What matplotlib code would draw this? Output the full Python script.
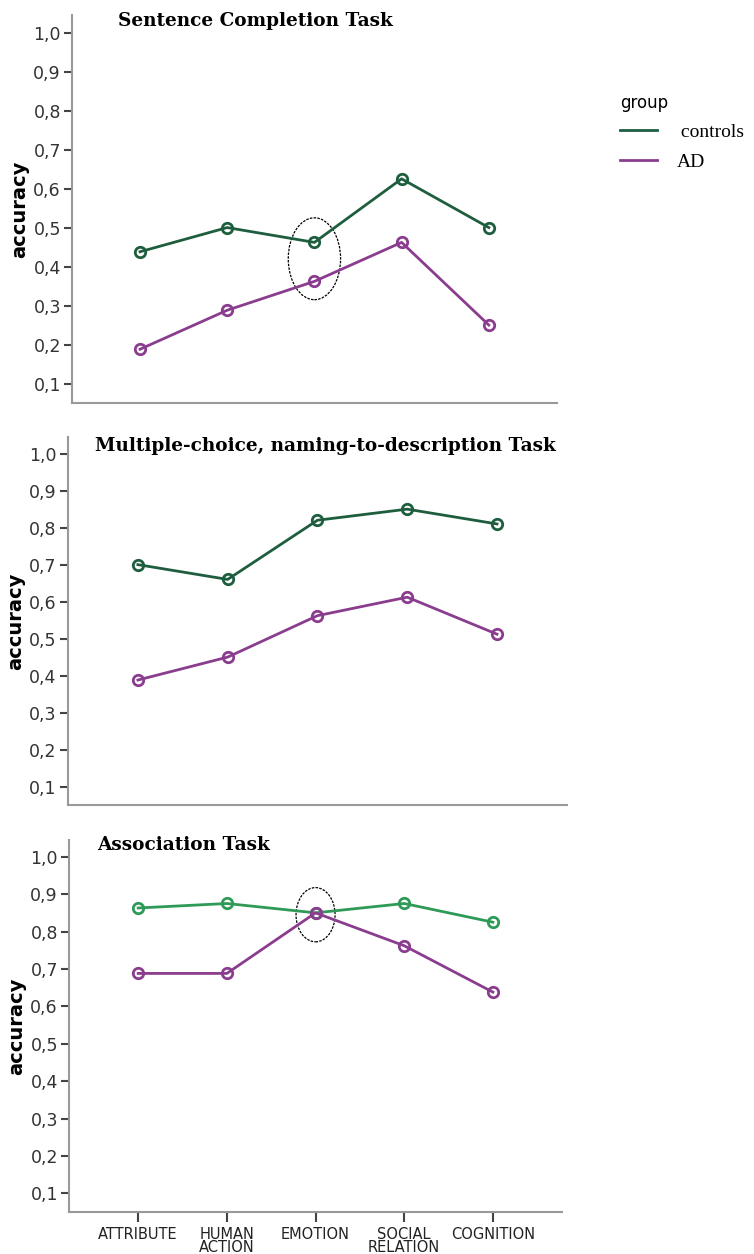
import matplotlib.pyplot as plt
from matplotlib.patches import Ellipse
from matplotlib.lines import Line2D
import numpy as np

categories = ['ATTRIBUTE', 'HUMAN\nACTION', 'EMOTION', 'SOCIAL\nRELATION', 'COGNITION']
titles = ['Sentence Completion Task',
          'Multiple-choice, naming-to-description Task',
          'Association Task']

controls = [
    [0.438, 0.500, 0.462, 0.625, 0.500],
    [0.700, 0.660, 0.820, 0.850, 0.810],
    [0.863, 0.875, 0.850, 0.875, 0.825],
]
ad = [
    [0.188, 0.288, 0.362, 0.462, 0.250],
    [0.388, 0.450, 0.562, 0.612, 0.512],
    [0.688, 0.688, 0.850, 0.762, 0.638],
]
yticks = [0.1, 0.2, 0.3, 0.4, 0.5, 0.6, 0.7, 0.8, 0.9, 1.0]
ytick_labels = ['0,1', '0,2', '0,3', '0,4', '0,5', '0,6', '0,7', '0,8', '0,9', '1,0']

control_colors = ['#1e5e3e', '#1e5e3e', '#2f9a58']
ad_color = '#8a3d8e'

# axes boxes in figure fraction (left, bottom, width, height)
boxes = [(0.0955, 0.6786, 0.643, 0.3094),
         (0.090, 0.358, 0.662, 0.2935),
         (0.0915, 0.0335, 0.654, 0.2967)]
title_pos = [(0.095, 0.985), (0.054, 0.976), (0.057, 0.987)]
# ellipse marks: panel index -> (x, y, width, height) in data units
ellipses = {0: (2, 0.42, 0.6, 0.21), 2: (2, 0.845, 0.44, 0.145)}

fig = plt.figure(figsize=(7.54, 12.54), dpi=100)
x = np.arange(len(categories))

for i in range(3):
    ax = fig.add_axes(boxes[i])
    ax.plot(x, controls[i], color=control_colors[i], lw=2, marker='o',
            ms=7.5, mfc='none', mew=2, label='controls')
    ax.plot(x, ad[i], color=ad_color, lw=2, marker='o',
            ms=7.5, mfc='none', mew=2, label='AD')

    if i in ellipses:
        ex, ey, ew, eh = ellipses[i]
        ax.add_patch(Ellipse((ex, ey), ew, eh, fill=False, edgecolor='black',
                             lw=0.9, ls=(0, (2, 1))))

    ax.set_xlim(-0.78, 4.78)
    ax.set_ylim(0.05, 1.045)
    ax.set_yticks(yticks)
    ax.set_yticklabels(ytick_labels, fontsize=12.5, color='#333333')
    ax.set_xticks(x)
    if i == 2:
        ax.set_xticklabels(categories, fontsize=10.5, color='#222222', linespacing=0.85)
        ax.tick_params(axis='x', length=7, width=1.5, color='#444444')
    else:
        ax.set_xticklabels([])
        ax.tick_params(axis='x', length=0)
    ax.tick_params(axis='y', length=6, width=1.5, color='#444444', pad=2)

    for s in ['top', 'right']:
        ax.spines[s].set_visible(False)
    for s in ['left', 'bottom']:
        ax.spines[s].set_color('#999999')
        ax.spines[s].set_linewidth(1.5)

    ax.set_ylabel('accuracy', fontsize=14, fontweight='bold', labelpad=3)
    ax.text(title_pos[i][0], title_pos[i][1], titles[i], transform=ax.transAxes,
            fontsize=13.3, fontweight='bold', family='DejaVu Serif',
            va='center', ha='left')

handles = [Line2D([], [], color=control_colors[0], lw=2),
           Line2D([], [], color=ad_color, lw=2)]
leg = fig.legend(handles, [' controls', 'AD'], loc='upper left',
                 bbox_to_anchor=(620 / 754, 1 - 94 / 1254), frameon=False,
                 title='group', handlelength=1.9, handletextpad=1.0,
                 borderpad=0, borderaxespad=0,
                 prop={'family': 'Liberation Serif', 'size': 14},
                 labelspacing=0.6)
leg.get_title().set_fontsize(12)
leg._legend_box.align = 'left'

fig.savefig('out.png', dpi=100)
